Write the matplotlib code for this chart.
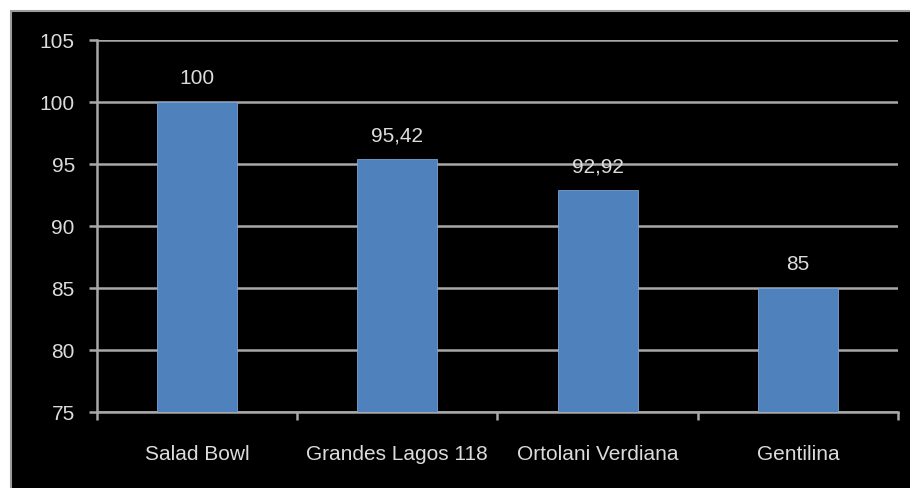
import matplotlib
matplotlib.use("Agg")
import matplotlib.pyplot as plt
from matplotlib.patches import Rectangle
from matplotlib.ticker import FixedLocator

categories = ["Salad Bowl", "Grandes Lagos 118", "Ortolani Verdiana", "Gentilina"]
values = [100, 95.42, 92.92, 85]
value_labels = ["100", "95,42", "92,92", "85"]
y_ticks = [75, 80, 85, 90, 95, 100, 105]

plt.rcParams["font.family"] = ["Liberation Sans Narrow", "Liberation Sans", "DejaVu Sans"]

W, H, DPI = 910, 489, 100
fig = plt.figure(figsize=(W / DPI, H / DPI), dpi=DPI, facecolor="white")

# dark chart panel with a thin grey frame
panel = Rectangle((11 / W, -0.01), 1.0, 1 - 12 / H + 0.01, transform=fig.transFigure,
                  facecolor="black", edgecolor="#9a9a9a", linewidth=1.5, zorder=-10)
fig.patches.append(panel)

ax = fig.add_axes([97 / W, 1 - 413 / H, (898 - 97) / W, (413 - 41) / H])
ax.set_facecolor("none")
ax.set_zorder(5)

text_color = "#dcdcdc"
grid_color = "#a8a8a8"

x = list(range(len(categories)))
bars = ax.bar(x, [v - 75 for v in values], bottom=75, width=0.4,
              color="#4f81bd", edgecolor="#7ea2d0", linewidth=0.6, zorder=3)

for xi, v, lab in zip(x, values, value_labels):
    ax.annotate(lab, (xi, v), xytext=(0, 10.5), textcoords="offset points",
                ha="center", va="bottom", color=text_color, fontsize=15)

ax.set_xlim(-0.5, len(categories) - 0.5)
ax.set_ylim(75, 105)
ax.set_yticks(y_ticks)
ax.set_yticklabels([str(t) for t in y_ticks])
ax.yaxis.grid(True, color=grid_color, linewidth=1.8, zorder=1)
ax.set_axisbelow(True)

ax.set_xticks(x)
ax.set_xticklabels(categories)
ax.xaxis.set_minor_locator(FixedLocator([i - 0.5 for i in range(len(categories) + 1)]))
ax.tick_params(axis="x", which="major", length=0, pad=23, labelsize=15, labelcolor=text_color)
ax.tick_params(axis="x", which="minor", length=6, width=1.8, color=grid_color, direction="out")
ax.tick_params(axis="y", length=6, width=1.8, color=grid_color, pad=10,
               labelsize=15, labelcolor=text_color)

for side in ("top", "right"):
    ax.spines[side].set_visible(False)
for side in ("left", "bottom"):
    ax.spines[side].set_color(grid_color)
    ax.spines[side].set_linewidth(1.8)

fig.savefig("out.png", dpi=DPI, facecolor="white")
